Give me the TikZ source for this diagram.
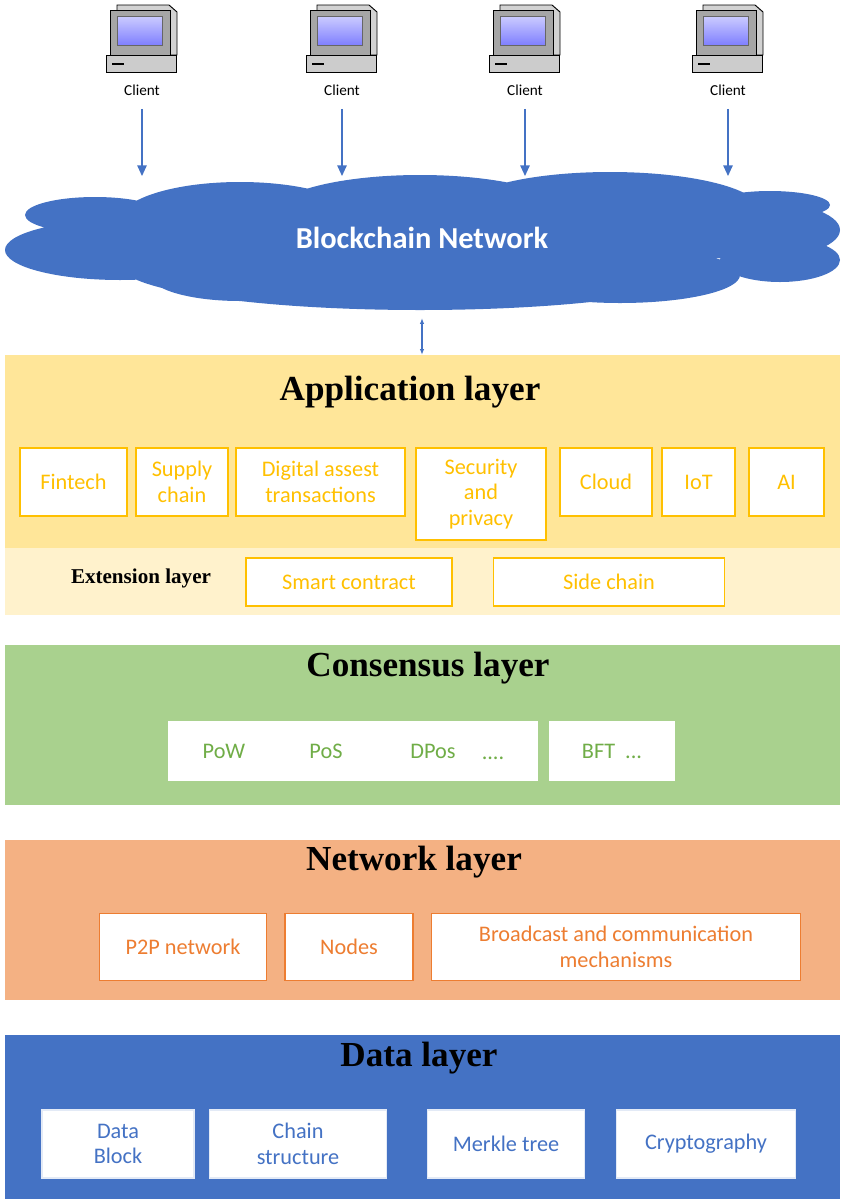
\documentclass[tikz,border=0pt]{standalone}
\usepackage{fontspec}
\setmainfont{Liberation Serif}
\newfontfamily\boxfont{Carlito}
\usetikzlibrary{arrows.meta}
\definecolor{cloudblue}{HTML}{4472C4}
\definecolor{appfill}{HTML}{FFE699}
\definecolor{extfill}{HTML}{FFF2CC}
\definecolor{appline}{HTML}{FFC000}
\definecolor{consfill}{HTML}{A9D18E}
\definecolor{constext}{HTML}{70AD47}
\definecolor{netfill}{HTML}{F4B183}
\definecolor{nettext}{HTML}{ED7D31}
\tikzset{
  item/.style={draw=#1, fill=white, line width=1.2pt, align=center, inner sep=0pt,
    font=\boxfont\fontsize{19}{22}\selectfont},
  title/.style={font=\bfseries\fontsize{30}{33}\selectfont},
  arr/.style={-{Triangle[length=9pt,width=8pt]}, cloudblue, line width=1.1pt}
}
\newcommand{\client}[3]{% x, y, name
  \fill[gray!35, draw=black, line width=0.8pt] (#1-25,#2-35) -- (#1+27,#2-35) -- (#1+35,#2-28) -- (#1+35,#2+15) -- (#1+30,#2+15) -- (#1-25,#2+15) -- cycle;
  \fill[gray!70, draw=black, line width=0.8pt] (#1-32,#2-30) rectangle (#1+28,#2+15);
  \fill[gray!40, draw=black, line width=0.8pt] (#1-36,#2+15) rectangle (#1+34,#2+32);
  \draw[black, line width=1.5pt] (#1-30,#2+24) -- (#1-18,#2+24);
  \shade[top color=blue!20!white, bottom color=blue!50!white, draw=black!60] (#1-25,#2-24) rectangle (#1+20,#2+5);
  \node[font=\boxfont\fontsize{13}{15}\selectfont] (#3) at (#1,#2+50) {Client};
}
\begin{document}
\begin{tikzpicture}[x=0.03cm, y=-0.03cm]
\useasboundingbox (0,0) rectangle (844,1199);
% clients
\client{142}{40}{c1}
\client{342}{40}{c2}
\client{525}{40}{c3}
\client{728}{40}{c4}
% cloud
\fill[cloudblue] (120,250) ellipse (115 and 30) (95,215) ellipse (70 and 18)
  (240,220) ellipse (120 and 38) (420,215) ellipse (150 and 40) (610,210) ellipse (150 and 38)
  (750,230) ellipse (90 and 30) (780,260) ellipse (60 and 22) (420,265) ellipse (300 and 45)
  (240,275) ellipse (90 and 26) (620,275) ellipse (120 and 28) (770,205) ellipse (60 and 14);
\node[font=\boxfont\bfseries\fontsize{26}{30}\selectfont, text=white] (net) at (422,238) {Blockchain Network};
\foreach \x/\c in {142/c1,342/c2,525/c3,728/c4}{
  \coordinate (t\c) at (\x,176);
  \draw[arr] ([yshift=-8pt]\c.south) -- (t\c);
}
% layers
\fill[appfill] (5,355) rectangle (840,548);
\fill[extfill] (5,548) rectangle (840,615);
\fill[consfill] (5,645) rectangle (840,805);
\fill[netfill] (5,840) rectangle (840,1000);
\fill[cloudblue] (5,1035) rectangle (840,1199);
\coordinate (cb) at (422,318);
\coordinate (ab) at (422,355);
\draw[{Latex[length=5pt]}-{Latex[length=5pt]}, cloudblue, line width=1pt] (cb) -- (ab);
% application layer
\node[title] (app) at (410,392) {Application layer};
\foreach \n/\a/\b/\t/\y/\h in {fin/20/127/Fintech/482/68, sup/136/228/Supply\\chain/482/68,
  dig/236/405/Digital assest\\transactions/482/68, sec/416/546/Security\\and\\privacy/494/92,
  clo/560/652/Cloud/482/68, iot/662/735/IoT/482/68, ai/749/824/AI/482/68}{
  \node[item=appline, text=appline, minimum width={(\b-\a)*0.03cm}, minimum height={\h*0.03cm}]
    (\n) at ({(\a+\b)/2},\y) {\t};
}
\node[font=\bfseries\fontsize{18}{20}\selectfont] (ext) at (141,578) {Extension layer};
\node[item=appline, text=appline, minimum width=6.18cm, minimum height=1.44cm] (sc) at (349,582) {Smart contract};
\node[item=appline, text=appline, minimum width=6.93cm, minimum height=1.44cm] (side) at (609,582) {Side chain};
% consensus layer
\node[title] (cons) at (428,668) {Consensus layer};
\node[item=consfill, minimum width=11.16cm, minimum height=1.86cm] (pow) at (353,751) {};
\node[item=consfill, text=constext, draw=none] (pw) at (224,751) {PoW};
\node[item=consfill, text=constext, draw=none] (ps) at (326,751) {PoS};
\node[item=consfill, text=constext, draw=none] (dp) at (433,751) {DPos};
\node[item=consfill, text=constext, draw=none] (dt) at (493,758) {....};
\node[item=consfill, text=constext, minimum width=3.81cm, minimum height=1.86cm] (bft) at (612,751) {BFT\ \ ...};
% network layer
\node[title] (netl) at (414,862) {Network layer};
\node[item=nettext, text=nettext, minimum width=5.01cm, minimum height=2.01cm] (p2p) at (183,947) {P2P network};
\node[item=nettext, text=nettext, minimum width=3.84cm, minimum height=2.01cm] (nod) at (349,947) {Nodes};
\node[item=nettext, text=nettext, minimum width=11.07cm, minimum height=2.01cm] (bro) at (616,947) {Broadcast and communication\\mechanisms};
% data layer
\node[title] (data) at (419,1058) {Data layer};
\node[item=white!85!cloudblue, text=cloudblue, minimum width=4.56cm, minimum height=2.04cm] (blk) at (118,1144) {Data\\Block};
\node[item=white!85!cloudblue, text=cloudblue, minimum width=5.31cm, minimum height=2.04cm] (chn) at (298,1144) {Chain\\structure};
\node[item=white!85!cloudblue, text=cloudblue, minimum width=4.71cm, minimum height=2.04cm] (mrk) at (506,1144) {Merkle tree};
\node[item=white!85!cloudblue, text=cloudblue, minimum width=5.37cm, minimum height=2.04cm] (cry) at (706,1144) {Cryptography};
\end{tikzpicture}
\end{document}
